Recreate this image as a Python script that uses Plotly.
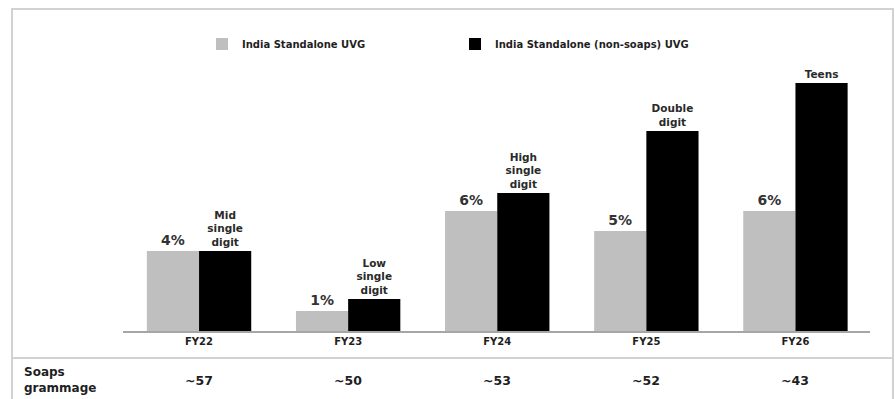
import plotly.graph_objects as go

categories = ["FY22", "FY23", "FY24", "FY25", "FY26"]
uvg_values = [4, 1, 6, 5, 6]
uvg_labels = ["4%", "1%", "6%", "5%", "6%"]
nonsoap_values = [4, 1.6, 6.9, 10, 12.4]
nonsoap_labels = ["Mid<br>single<br>digit", "Low<br>single<br>digit", "High<br>single<br>digit",
                  "Double<br>digit", "Teens"]
grammage = ["~57", "~50", "~53", "~52", "~43"]

FONT = "DejaVu Sans"
TXT = "#1f1f1f"

fig = go.Figure()
fig.add_trace(go.Bar(
    x=categories, y=uvg_values, name="India Standalone UVG",
    marker=dict(color="#bfbfbf", line=dict(width=0)),
    text=uvg_labels, textposition="outside", constraintext="none", cliponaxis=False,
    textfont=dict(family=FONT, size=14, color="#333333", weight="bold"),
))
fig.add_trace(go.Bar(
    x=categories, y=nonsoap_values, name="India Standalone (non-soaps) UVG",
    marker=dict(color="#000000", line=dict(width=0)),
    text=nonsoap_labels, textposition="outside", constraintext="none", cliponaxis=False,
    textfont=dict(family=FONT, size=10.5, color="#2a2a2a", weight="bold"),
))

L, R, T, B = 123, 25, 40, 68
W, H = 895, 399
pw, ph = W - L - R, H - T - B

def px_x(px):
    return (px - L) / pw

def px_y(py):
    return (H - B - py) / ph

annotations = [
    dict(x=c, xref="x", y=px_y(380), yref="paper", text=g, showarrow=False,
         xanchor="center", yanchor="middle",
         font=dict(family=FONT, size=12.5, color=TXT, weight="bold"))
    for c, g in zip(categories, grammage)
]
annotations.append(dict(
    x=px_x(22), xref="paper", y=px_y(380), yref="paper", text="Soaps<br>grammage",
    showarrow=False, xanchor="left", yanchor="middle", align="left",
    font=dict(family=FONT, size=12, color=TXT, weight="bold")))

shapes = [
    dict(type="rect", xref="paper", yref="paper", x0=px_x(12), x1=px_x(893),
         y0=px_y(430), y1=px_y(9), line=dict(color="#d2d2d2", width=2), layer="below"),
    dict(type="line", xref="paper", yref="paper", x0=px_x(12), x1=px_x(893),
         y0=px_y(358), y1=px_y(358), line=dict(color="#d2d2d2", width=2)),
]

fig.update_layout(
    width=W, height=H,
    margin=dict(l=L, r=R, t=T, b=B),
    paper_bgcolor="white", plot_bgcolor="white",
    barmode="group", bargap=0.30, bargroupgap=0,
    showlegend=True,
    legend=dict(orientation="h", x=px_x(202), xanchor="left", y=px_y(44), yanchor="middle",
                entrywidth=208, entrywidthmode="pixels", itemwidth=30,
                font=dict(family=FONT, size=10, color=TXT, weight="bold"),
                bgcolor="rgba(0,0,0,0)"),
    xaxis=dict(range=[-0.51, 4.5], showline=True, linecolor="#a6a6a6", linewidth=2,
               ticks="", showgrid=False, zeroline=False,
               tickfont=dict(family=FONT, size=10, color=TXT, weight="bold")),
    yaxis=dict(range=[0, ph / 20.0], visible=False, showgrid=False, zeroline=False),
    annotations=annotations,
    shapes=shapes,
)

fig.write_html("out.html")
